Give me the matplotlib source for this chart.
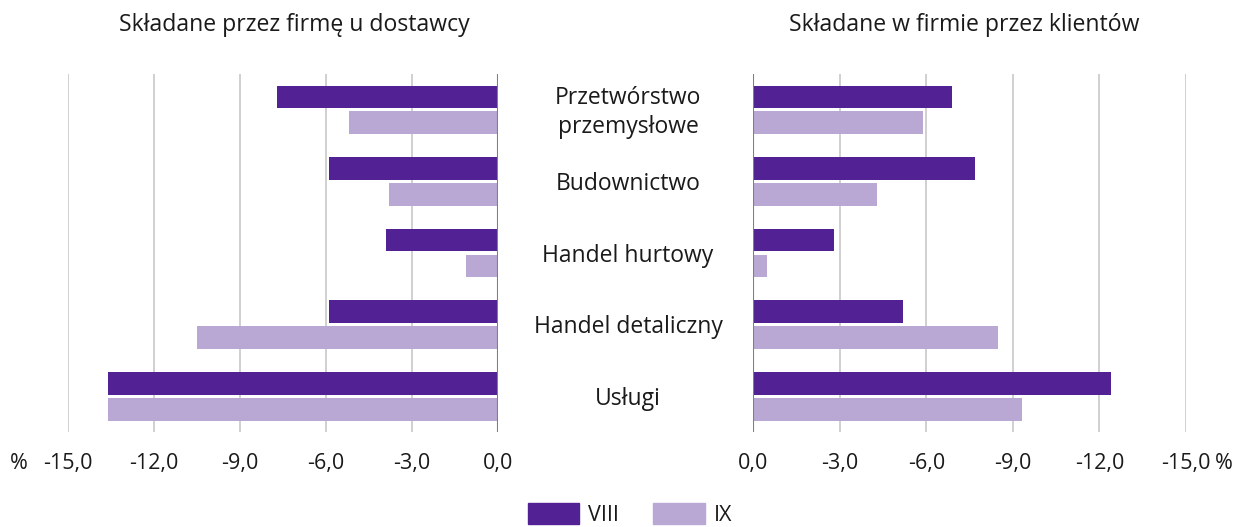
import numpy as np
import matplotlib.pyplot as plt
from matplotlib.patches import Patch

plt.rcParams['font.family'] = ['Open Sans', 'DejaVu Sans']

categories = ['Przetwórstwo\nprzemysłowe', 'Budownictwo', 'Handel hurtowy',
              'Handel detaliczny', 'Usługi']
series = ['VIII', 'IX']

# składane przez firmę u dostawcy
left_viii = [-7.7, -5.9, -3.9, -5.9, -13.6]
left_ix = [-5.2, -3.8, -1.1, -10.5, -13.6]
# składane w firmie przez klientów
right_viii = [-6.9, -7.7, -2.8, -5.2, -12.4]
right_ix = [-5.9, -4.3, -0.5, -8.5, -9.3]

ticks = [0, -3, -6, -9, -12, -15]
tick_labels = ['0,0', '-3,0', '-6,0', '-9,0', '-12,0', '-15,0']

c_viii = '#522194'
c_ix = '#B9A7D4'
c_txt = '#1A1A1A'

fig = plt.figure(figsize=(12.4, 5.27), dpi=100)
ax_l = fig.add_axes([0.0548, 0.180, 0.3468, 0.6797])
ax_r = fig.add_axes([0.6073, 0.180, 0.3492, 0.6797])

y = np.arange(len(categories))
h = 0.317
off = 0.18


def draw(ax, viii, ix):
    ax.barh(y - off, viii, height=h, color=c_viii, zorder=3)
    ax.barh(y + off, ix, height=h, color=c_ix, zorder=3)
    ax.set_ylim(len(categories) - 0.5, -0.5)
    ax.set_xticks(ticks)
    ax.set_xticklabels(tick_labels, fontsize=15.5, color=c_txt)
    ax.set_yticks([])
    for s in ax.spines.values():
        s.set_visible(False)
    ax.tick_params(axis='x', length=0, pad=15)
    ax.grid(axis='x', color='#C8C8C8', linewidth=1.2, zorder=0)
    ax.axvline(0, color='#7F7F7F', linewidth=1.5, zorder=4)


draw(ax_l, left_viii, left_ix)
ax_l.set_xlim(-15, 0)
draw(ax_r, right_viii, right_ix)
ax_r.set_xlim(0, -15)

fig.text(0.2372, 0.952, 'Składane przez firmę u dostawcy', ha='center',
         va='center', fontsize=16.6, color=c_txt)
fig.text(0.7774, 0.952, 'Składane w firmie przez klientów', ha='center',
         va='center', fontsize=16.6, color=c_txt)

# nazwy sekcji pomiędzy panelami (linia bazowa ok. 8.5 px pod środkiem grupy)
inv = fig.transFigure.inverted()
for i, c in enumerate(categories):
    px = ax_l.transData.transform((0, i))[1]
    nlines = c.count('\n') + 1
    base = px - 8.5 - (nlines - 1) * 14.3
    fy = inv.transform((0, base))[1]
    fig.text(0.5065, fy, c, ha='center', va='baseline', fontsize=16.5,
             linespacing=1.25, color=c_txt)

fig.text(0.008, 0.121, '%', fontsize=15.5, ha='left', va='center', color=c_txt)
fig.text(0.994, 0.121, '%', fontsize=15.5, ha='right', va='center', color=c_txt)

handles = [Patch(color=c_viii, label=series[0]), Patch(color=c_ix, label=series[1])]
fig.legend(handles=handles, loc='lower center', ncol=2, frameon=False,
           bbox_to_anchor=(0.508, -0.035), fontsize=15.5, handlelength=2.4,
           handleheight=1.1, columnspacing=1.6, handletextpad=0.4,
           labelcolor=c_txt)

fig.savefig('out.png', dpi=100, facecolor='white')
